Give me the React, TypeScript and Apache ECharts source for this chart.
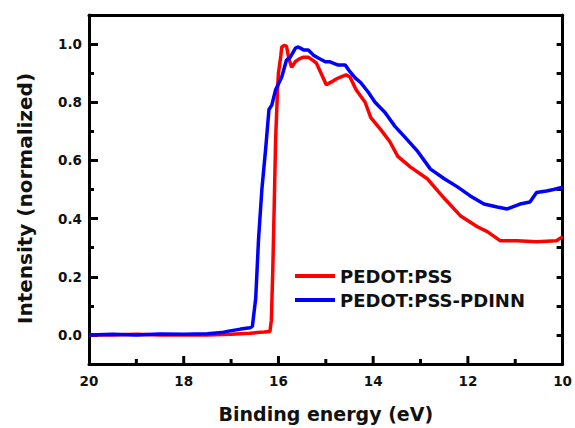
import React, { useEffect, useRef } from "react";
import * as echarts from "echarts";

// Binding energy (eV), normalized intensity
const pedotPssEnergy = [20, 19.5, 19, 18.5, 18, 17.5, 17.0, 16.6, 16.3, 16.18, 16.15, 16.12, 16.09, 16.06, 16.02, 16.0, 15.95, 15.93, 15.88, 15.83, 15.78, 15.72, 15.64, 15.55, 15.47, 15.37, 15.28, 15.2, 15.1, 14.99, 14.88, 14.78, 14.68, 14.57, 14.49, 14.36, 14.17, 14.05, 13.84, 13.65, 13.48, 13.21, 12.85, 12.49, 12.16, 11.8, 11.59, 11.32, 10.96, 10.55, 10.13, 10.0];
const pedotPssIntensity = [0.0, 0.0, 0.002, 0.0, 0.0, 0.0, 0.002, 0.006, 0.01, 0.012, 0.05, 0.22, 0.44, 0.67, 0.84, 0.9, 0.96, 0.99, 0.995, 0.993, 0.95, 0.92, 0.94, 0.95, 0.955, 0.955, 0.945, 0.935, 0.9, 0.86, 0.87, 0.88, 0.887, 0.894, 0.887, 0.843, 0.8, 0.747, 0.706, 0.665, 0.614, 0.577, 0.536, 0.468, 0.41, 0.372, 0.355, 0.324, 0.324, 0.32, 0.324, 0.338];

const pdinnEnergy = [20, 19.5, 19, 18.5, 18, 17.5, 17.2, 17.05, 16.8, 16.6, 16.55, 16.48, 16.42, 16.35, 16.27, 16.2, 16.14, 16.06, 15.93, 15.83, 15.75, 15.64, 15.58, 15.47, 15.37, 15.26, 15.16, 15.01, 14.91, 14.74, 14.59, 14.49, 14.38, 14.26, 14.11, 13.96, 13.75, 13.54, 13.33, 13.06, 12.79, 12.49, 12.22, 11.95, 11.66, 11.38, 11.17, 10.9, 10.69, 10.55, 10.34, 10.19, 10.0];
const pdinnIntensity = [0.0, 0.002, 0.0, 0.003, 0.002, 0.004, 0.008, 0.013, 0.02, 0.025, 0.03, 0.126, 0.33, 0.5, 0.64, 0.775, 0.79, 0.843, 0.887, 0.945, 0.955, 0.986, 0.99, 0.98, 0.98, 0.962, 0.952, 0.939, 0.939, 0.928, 0.928, 0.905, 0.884, 0.867, 0.836, 0.8, 0.765, 0.717, 0.68, 0.631, 0.57, 0.536, 0.509, 0.478, 0.45, 0.44, 0.433, 0.45, 0.457, 0.49, 0.495, 0.5, 0.508];

const seriesNames = ["PEDOT:PSS", "PEDOT:PSS-PDINN"];
const seriesColors = ["#ff0000", "#0000ff"];
const xMajorTicks = [12, 14, 16, 18];
const xLabels = [10, 12, 14, 16, 18, 20];
const xMinorTicks = [11, 13, 15, 17, 19];
const yMajorTicks = [0, 0.2, 0.4, 0.6, 0.8, 1.0];
const yMinorTicks = [0.1, 0.3, 0.5, 0.7, 0.9];
const Y_MIN = -0.1;
const Y_MAX = 1.1;

const FONT = "DejaVu Sans";

export default function App() {
  const ref = useRef<HTMLDivElement>(null);
  useEffect(() => {
    if (!ref.current) return;
    const chart = echarts.init(ref.current, null, { renderer: "svg" });
    const zip = (xs: number[], ys: number[]) => xs.map((x, i) => [x, ys[i]]);
    const black = { width: 3, color: "#000" };
    const yBase = { type: "value", min: Y_MIN, max: Y_MAX, splitLine: { show: false } };
    const xBase = { type: "value", min: 10, max: 20, inverse: true, splitLine: { show: false } };
    const tickSeries = (values: number[], len: number) => ({
      type: "custom",
      silent: true,
      clip: false,
      xAxisIndex: 0,
      yAxisIndex: 0,
      z: 6,
      encode: { x: 0, y: 1 },
      data: values.map((v) => [v, Y_MIN]),
      renderItem: (_params: any, api: any) => {
        const p = api.coord([api.value(0), api.value(1)]);
        return {
          type: "line",
          shape: { x1: p[0], y1: p[1], x2: p[0], y2: p[1] - len },
          style: { stroke: "#000", lineWidth: 3 },
        };
      },
    });
    chart.setOption({
      animation: false,
      backgroundColor: "#fff",
      grid: { left: 89, right: 9, top: 15, bottom: 62 },
      legend: {
        orient: "vertical",
        left: 295,
        top: 267,
        padding: 0,
        icon: "rect",
        itemWidth: 40,
        itemHeight: 4,
        itemGap: 6,
        data: seriesNames,
        textStyle: { fontFamily: FONT, fontWeight: "bold", fontSize: 18, color: "#111" },
      },
      xAxis: [
        {
          ...xBase,
          position: "bottom",
          interval: 2,
          axisLine: { show: true, onZero: false, lineStyle: black },
          axisTick: { show: false },
          axisLabel: { customValues: xLabels, fontFamily: FONT, fontWeight: "bold", fontSize: 13.5, color: "#111", margin: 10 },
          name: "Binding energy (eV)",
          nameLocation: "middle",
          nameGap: 40,
          nameTextStyle: { fontFamily: FONT, fontWeight: "bold", fontSize: 19, color: "#111" },
        },
        {
          ...xBase,
          position: "top",
          axisLine: { show: true, onZero: false, lineStyle: black },
          axisTick: { show: false },
          axisLabel: { show: false },
        },
      ],
      yAxis: [
        {
          ...yBase,
          position: "left",
          axisLine: { show: true, onZero: false, lineStyle: black },
          axisTick: { show: true, inside: true, length: 9, customValues: yMajorTicks, lineStyle: black },
          axisLabel: {
            customValues: yMajorTicks,
            formatter: (v: number) => v.toFixed(1),
            fontFamily: FONT, fontWeight: "bold", fontSize: 13.5, color: "#111", margin: 7,
          },
          name: "Intensity (normalized)",
          nameLocation: "middle",
          nameGap: 54,
          nameTextStyle: { fontFamily: FONT, fontWeight: "bold", fontSize: 20, color: "#111", padding: [0, 18, 0, 0] },
        },
        {
          ...yBase,
          position: "left",
          axisLine: { show: false, onZero: false },
          axisTick: { show: true, inside: true, length: 5, customValues: yMinorTicks, lineStyle: black },
          axisLabel: { show: false },
        },
        {
          ...yBase,
          position: "right",
          interval: 0.1,
          axisLine: { show: true, onZero: false, lineStyle: black },
          axisTick: { show: true, inside: true, length: 6, lineStyle: black },
          axisLabel: { show: false },
        },
      ],
      series: [
        ...[0, 1].map((i) => ({
          name: seriesNames[i],
          type: "line",
          xAxisIndex: 0,
          yAxisIndex: 0,
          data: i === 0 ? zip(pedotPssEnergy, pedotPssIntensity) : zip(pdinnEnergy, pdinnIntensity),
          symbol: "none",
          lineStyle: { color: seriesColors[i], width: 3.5 },
          itemStyle: { color: seriesColors[i] },
          z: 3 + i,
        })),
        tickSeries(xMajorTicks, 8),
        tickSeries(xMinorTicks, 5),
      ],
    });
    return () => chart.dispose();
  }, []);
  return <div ref={ref} style={{ position: "fixed", left: 0, top: 0, width: 575, height: 428 }} />;
}
